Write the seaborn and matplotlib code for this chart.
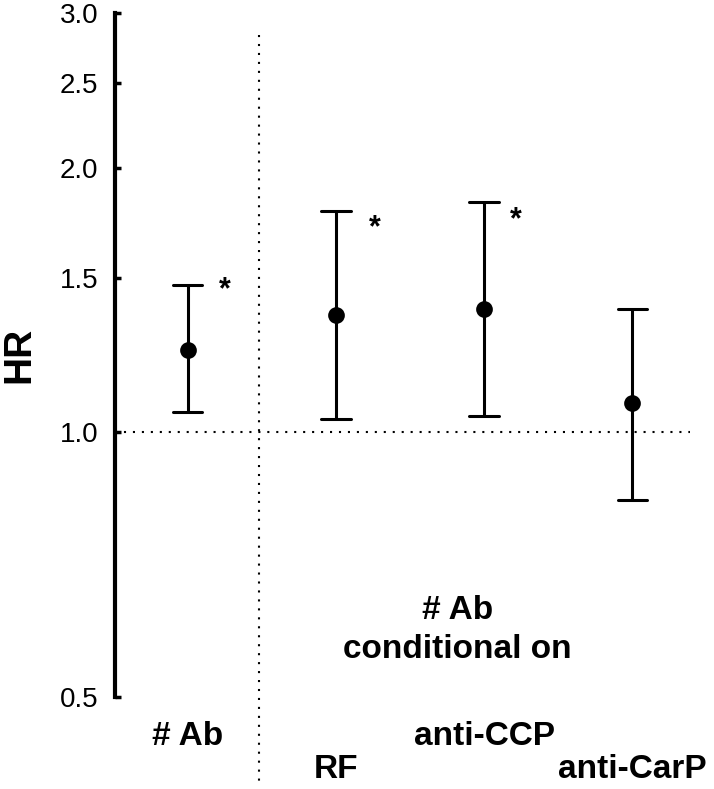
import matplotlib
matplotlib.use("Agg")
import matplotlib.pyplot as plt
import pandas as pd
import seaborn as sns

# hazard ratios with 95% CI
groups = ["# Ab", "RF", "anti-CCP", "anti-CarP"]
hr = [1.24, 1.36, 1.38, 1.08]
ci_low = [1.056, 1.037, 1.045, 0.837]
ci_high = [1.473, 1.787, 1.830, 1.380]
significant = [True, True, True, False]
tick_labels = ["# Ab", "\nRF", "anti-CCP", "\nanti-CarP"]
yticks = [0.5, 1.0, 1.5, 2.0, 2.5, 3.0]

sns.set_style("white")
plt.rcParams["font.family"] = ["Liberation Sans", "DejaVu Sans"]
plt.rcParams["text.color"] = "black"
plt.rcParams["axes.labelcolor"] = "black"
plt.rcParams["ytick.color"] = "black"
plt.rcParams["xtick.color"] = "black"

# long format: median of (low, est, high) gives the estimate, min/max give the CI
rows = []
for g, lo, est, hi in zip(groups, ci_low, hr, ci_high):
    for v in (lo, est, hi):
        rows.append({"group": g, "HR": v})
df = pd.DataFrame(rows)

fig = plt.figure(figsize=(7.14, 7.89), dpi=100)
ax = fig.add_axes([0.161, 0.1166, 0.839, 0.8669])
ax.set_yscale("log")

sns.pointplot(data=df, x="group", y="HR", order=groups, estimator="median",
              errorbar=lambda v: (v.min(), v.max()), capsize=0.2,
              color="black", linestyle="none", markers="o", markersize=10,
              err_kws={"linewidth": 2.2}, ax=ax)

ax.set_ylim(0.5, 3.0)
ax.set_xlim(-0.49, 3.55)
ax.set_yticks(yticks)
ax.set_yticklabels([f"{t:.1f}" for t in yticks], fontsize=20)
ax.minorticks_off()
ax.tick_params(axis="y", direction="in", length=4, width=2.5, pad=12, left=True)
ax.set_xticks(range(len(groups)))
ax.set_xticklabels(tick_labels, fontsize=24, fontweight="bold", linespacing=1.12)
ax.tick_params(axis="x", length=0, pad=17)

for side in ["top", "right", "bottom"]:
    ax.spines[side].set_visible(False)
ax.spines["left"].set_linewidth(3)
ax.spines["left"].set_color("black")

ax.set_xlabel("")
ax.set_ylabel("HR", fontsize=28, fontweight="bold", labelpad=16)

# reference lines
dots = (0, (1, 3.3))
ax.hlines(1.0, -0.49, 3.39, colors="black", linestyles=dots, linewidth=1.5)
ax.plot([0.48, 0.48], [0.968, -0.126], transform=ax.get_xaxis_transform(),
        color="black", linestyle=dots, linewidth=1.5, clip_on=False)

# significance stars beside the upper CI caps
star_offsets = [(27, -10), (28, -18), (23, -19), (0, 0)]
for i, (hi, sig) in enumerate(zip(ci_high, significant)):
    if sig:
        ax.annotate("*", (i, hi), xytext=star_offsets[i], textcoords="offset points",
                    fontsize=22, fontweight="bold", ha="center", va="baseline")

ax.text(1.82, 0.596, "# Ab\nconditional on", ha="center", va="center",
        fontsize=24, fontweight="bold", linespacing=1.35)

fig.savefig("out.png", dpi=100)
